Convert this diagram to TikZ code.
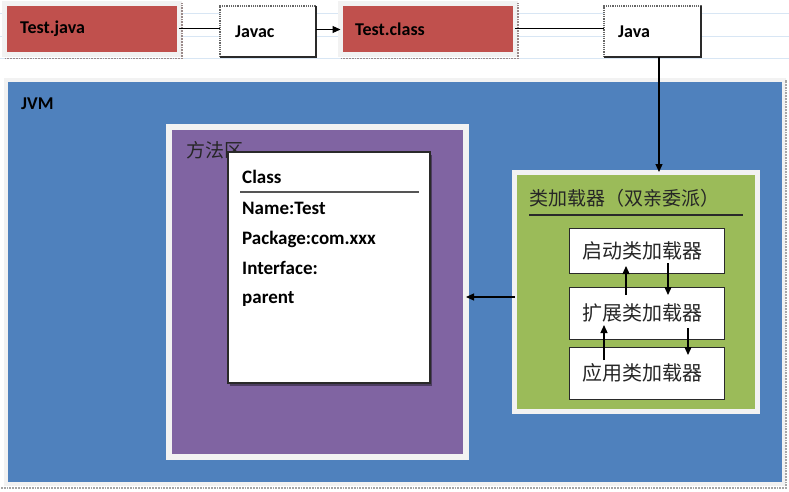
\documentclass[tikz,border=0pt]{standalone}
\usepackage{fontspec}
\setmainfont{Carlito}
\newfontfamily\cjkf{Noto Sans CJK SC}
\usetikzlibrary{arrows.meta,shadows,calc}
\definecolor{jred}{HTML}{C0504D}
\definecolor{jblue}{HTML}{4F81BD}
\definecolor{jpurple}{HTML}{8064A2}
\definecolor{jgreen}{HTML}{9BBB59}
\definecolor{framec}{HTML}{F2F2F2}
\definecolor{gridc}{HTML}{D8E6F4}
\definecolor{dotc}{HTML}{9A8A8A}
\definecolor{darkc}{HTML}{2A2A2A}
\begin{document}
\begin{tikzpicture}[x=1pt,y=-1pt,
  boxbase/.style={outer sep=0pt, inner sep=0pt, anchor=north west},
  redbox/.style={boxbase, fill=jred, draw=framec, line width=5pt, minimum width=174.5pt, minimum height=51pt},
  whitebox/.style={boxbase, fill=white, draw=gray!80!black, densely dotted, line width=1.2pt, minimum height=51pt},
  txtlab/.style={anchor=west, inner sep=0pt, font=\fontsize{18}{20}\selectfont\bfseries, text=black},
  ltxt/.style={anchor=west, inner sep=0pt, font=\fontsize{19}{21}\selectfont\bfseries, text=black},
  cjktxt/.style={anchor=west, inner sep=0pt, font=\cjkf\fontsize{19}{21}\selectfont, text=black!85},
  cjklab/.style={anchor=west, inner sep=0pt, font=\cjkf\fontsize{20}{22}\selectfont, text=black!85},
  loader/.style={boxbase, fill=white, draw=darkc, line width=1pt, minimum width=155pt},
  shad/.style={drop shadow={shadow xshift=2pt, shadow yshift=-3pt, fill=black, opacity=0.4}},
  dotline/.style={draw=dotc, densely dotted, line width=1.8pt},
  conn/.style={line width=1.2pt, draw=black},
  arr/.style={conn, -{Triangle[length=8pt,width=7pt]}},
]
\useasboundingbox (0,0) rectangle (789,492);
\fill[white] (0,0) rectangle (789,492);
\foreach \yy in {13,36,58} \draw[gridc, line width=0.8pt] (0,\yy) -- (789,\yy);

% top row
\node[redbox, label={[txtlab, xshift=15.5pt]west:Test.java}] (tj) at (4.5,3.5) {};
\draw[dotline] ([yshift=-4pt]tj.south west) -- ([xshift=3pt,yshift=-4pt]tj.south east) -- ([xshift=3pt]tj.north east);
\node[whitebox, minimum width=96pt, label={[txtlab, xshift=15pt]west:Javac}] (javac) at (220,6) {};
\draw[line width=1.4pt, draw=darkc] (javac.north east) -- (javac.south east) -- (javac.south west);
\node[redbox, label={[txtlab, xshift=14.5pt]west:Test.class}] (tc) at (340.5,3.5) {};
\draw[dotline] ([yshift=-4pt]tc.south west) -- ([xshift=3pt,yshift=-4pt]tc.south east) -- ([xshift=3pt]tc.north east);
\node[whitebox, minimum width=97pt, label={[txtlab, xshift=14pt]west:Java}] (java) at (604,6) {};
\draw[line width=1.4pt, draw=darkc] (java.north east) -- (java.south east) -- (java.south west);

\draw[conn] ([yshift=0.5pt]tj.east) -- ([yshift=0.5pt]tj.east -| javac.west);
\draw[arr] ([yshift=2pt]javac.east) -- ([yshift=2pt]javac.east -| tc.west);
\draw[conn] ([yshift=0.5pt]tc.east) -- ([yshift=0.5pt]tc.east -| java.west);

% JVM
\node[boxbase, fill=jblue, draw=framec, line width=4pt, minimum width=778pt, minimum height=404pt] (jvm) at (6,80) {};
\draw[dotline, draw=gray!70] ([xshift=-5pt,yshift=-4pt]jvm.south west) -- ([xshift=2pt,yshift=-4pt]jvm.south east) -- ([xshift=2pt]jvm.north east);
\node[txtlab] (jvmt) at (21,104) {JVM};

% method area
\node[boxbase, fill=jpurple, draw=framec, line width=6pt, minimum width=297pt, minimum height=330pt, shad] (meth) at (169,127) {};
\node[cjktxt] (mtxt) at (186,150) {方法区};
\node[boxbase, fill=white, draw=darkc, line width=1.2pt, minimum width=202pt, minimum height=231pt, shad] (cls) at (228,152) {};
\node[ltxt] (c1) at (242,177) {Class};
\draw[line width=1.3pt, draw=darkc!80] ([xshift=12pt,yshift=-40pt]cls.north west) -- ([xshift=-11pt,yshift=-40pt]cls.north east);
\node[ltxt] (c2) at (242,208) {Name:Test};
\node[ltxt] (c3) at (242,239) {Package:com.xxx};
\node[ltxt] (c4) at (242,268) {Interface:};
\node[ltxt] (c5) at (242,299) {parent};

% class loader
\node[boxbase, fill=jgreen, draw=framec, line width=5pt, minimum width=242.5pt, minimum height=239pt, shad] (cl) at (514.5,172) {};
\node[cjktxt] (clt) at (529,198) {类加载器（双亲委派）};
\draw[line width=1.3pt, draw=darkc] ([xshift=14.5pt,yshift=-43pt]cl.north west) -- ([xshift=-14pt,yshift=-43pt]cl.north east);
\node[loader, minimum height=45pt, label={[cjklab, xshift=13pt]west:启动类加载器}] (b1) at (569,228) {};
\node[loader, minimum height=52pt, label={[cjklab, xshift=13pt]west:扩展类加载器}] (b2) at (569,287) {};
\node[loader, minimum height=52pt, label={[cjklab, xshift=13pt]west:应用类加载器}] (b3) at (569,347) {};

\draw[arr] ([xshift=57pt,yshift=-8pt]b2.north west) -- ([xshift=57pt,yshift=7pt]b1.south west);
\draw[arr] ([xshift=99pt,yshift=10pt]b1.south west) -- ([xshift=99pt,yshift=-8pt]b2.north west);
\draw[arr] ([xshift=35pt,yshift=-13pt]b3.north west) -- ([xshift=35pt,yshift=14pt]b2.south west);
\draw[arr] ([xshift=119pt,yshift=11pt]b2.south west) -- ([xshift=119pt,yshift=-8pt]b3.north west);

% connectors between areas
\draw[arr] ([xshift=6.5pt]java.south) -- ([xshift=6.5pt]java.south |- cl.north);
\draw[arr] ([yshift=-5.5pt]cl.west) -- ([yshift=-5.5pt]cl.west -| meth.east);
\end{tikzpicture}
\end{document}
